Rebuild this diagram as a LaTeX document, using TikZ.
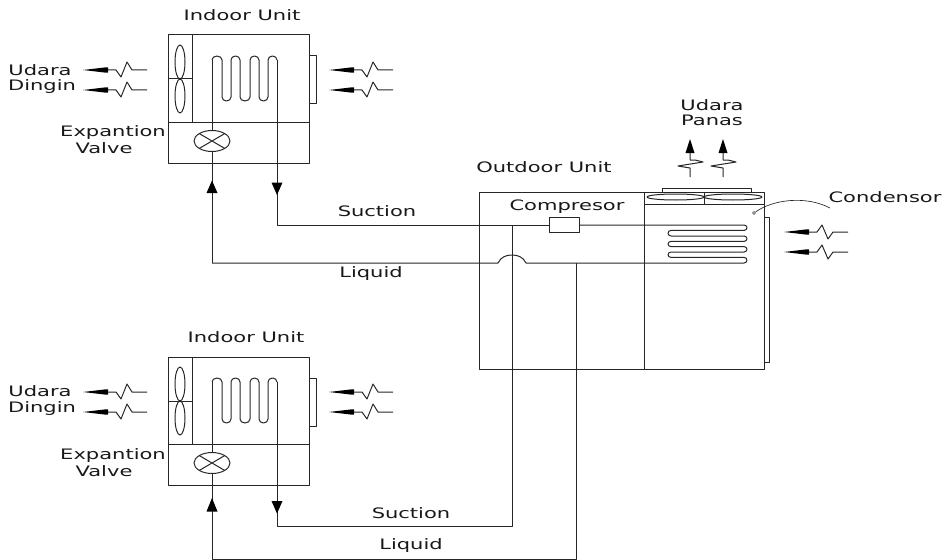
\documentclass[tikz,border=0pt]{standalone}
\usepackage{fontspec}
\newfontfamily\lblfont[FakeStretch=1.46]{DejaVu Sans}
\tikzset{
  x=0.75pt,y=-0.75pt,
  wire/.style={draw=black!85,line width=0.75pt,line join=round},
  boxn/.style={wire,rectangle,inner sep=0pt,minimum width=0pt},
  lbl/.style={font=\lblfont\fontsize{10.8}{12}\selectfont,anchor=base,inner sep=0pt,text=black!90},
  pics/airflow/.style={code={
    \fill[black] (0,0) -- (23,-2.7) -- (25,-2.7) -- (25,2.7) -- (23,2.7) -- cycle;
    \draw[wire] (25,0) -- (33,0) -- (38,7) -- (44,-8) -- (49,0) -- (64,0);
  }},
  pics/airflowflip/.style={code={
    \fill[black] (0,0) -- (23,-2.7) -- (25,-2.7) -- (25,2.7) -- (23,2.7) -- cycle;
    \draw[wire] (25,0) -- (33,0) -- (38,-7) -- (44,7) -- (49,0) -- (64,0);
  }},
  pics/airup/.style={code={
    \fill[black] (0,0) -- (-4.5,14) -- (4.5,14) -- cycle;
    \draw[wire] (0,14) -- (0,21) -- (5,21) -- (13,23) -- (-12,27) -- (0,29) -- (0,38);
  }},
  pics/indoor/.style={code={
    \draw[wire] (168,35) rectangle (309,163);
    \draw[wire] (168,122) -- (309,122);
    \draw[wire] (192,35) -- (192,122);
    \draw[wire] (168,79) -- (192,79);
    \draw[wire] (180,62) ellipse (5 and 17);
    \draw[wire] (180,96) ellipse (5 and 17);
    \draw[wire] (309,56) -- (316,56) -- (316,104) -- (309,104);
    \draw[wire] (212,60) arc[start angle=180,end angle=360,x radius=5,y radius=4]
      -- (222,97) arc[start angle=180,end angle=0,x radius=4.5,y radius=4]
      -- (231,60) arc[start angle=180,end angle=360,x radius=4.5,y radius=4]
      -- (240,97) arc[start angle=180,end angle=0,x radius=5,y radius=4]
      -- (250,60) arc[start angle=180,end angle=360,x radius=4.5,y radius=4]
      -- (259,97) arc[start angle=180,end angle=0,x radius=4.5,y radius=4]
      -- (268,60) arc[start angle=180,end angle=360,x radius=4.5,y radius=4]
      -- (277,60);
    \draw[wire] (212,60) -- (212,130.5);
    \draw[wire] (277,60) -- (277,163);
    \draw[wire] (212,141) ellipse (18 and 10.5);
    \draw[wire] (199.3,133.6) -- (224.7,148.4) (199.3,148.4) -- (224.7,133.6);
    \draw[wire] (212,151.5) -- (212,163);
    \coordinate (-liq) at (212,163);
    \coordinate (-suc) at (277,163);
    \pic at (83,70) {airflow};
    \pic at (83,90) {airflow};
    \pic at (329,70) {airflow};
    \pic at (329,90) {airflow};
  }},
}
\begin{document}
\begin{tikzpicture}
\useasboundingbox (0,0) rectangle (946,560);
% indoor units
\pic (ua) at (0,0) {indoor};
\pic (ub) at (0,322) {indoor};
% outdoor unit
\coordinate (oTL) at (479,192);
\coordinate (oBR) at (764,369);
\draw[wire] (oTL) rectangle (oBR);
\draw[wire] (644,192) -- (644,369);
\draw[wire] (644,204) -- (764,204);
\draw[wire] (704,192) -- (704,204);
\draw[wire] (662,192) -- (662,188) -- (751,188) -- (751,192);
\draw[wire] (675.5,197) ellipse (28.5 and 3);
\draw[wire] (733,197) ellipse (29 and 3);
\draw[wire] (764,217) -- (769,217) -- (769,362) -- (764,362);
\node[boxn,minimum width=22.5pt,minimum height=11.25pt] (comp) at (564,224.5) {};
% condenser coil
\coordinate (cIn) at (744,225);
\draw[wire] (comp.east |- cIn) -- (cIn) arc[start angle=-90,end angle=90,x radius=3,y radius=2.7]
  -- (671,230.4) arc[start angle=270,end angle=90,x radius=3,y radius=2.8]
  -- (744,236) arc[start angle=-90,end angle=90,x radius=3,y radius=2.7]
  -- (671,241.4) arc[start angle=270,end angle=90,x radius=3,y radius=2.6]
  -- (744,246.6) arc[start angle=-90,end angle=90,x radius=3,y radius=2.7]
  -- (671,252) arc[start angle=270,end angle=90,x radius=3,y radius=2.7]
  -- (744,257.4) arc[start angle=-90,end angle=90,x radius=3,y radius=2.8]
  -- (526,263) .. controls (523,257) and (518,255) .. (512,255) .. controls (506,255) and (501,257) .. (498,263) -- (212,263);
% pipes
\coordinate (sucA) at (277,225);
\coordinate (liqA) at (212,263);
\coordinate (sucB) at (277,526);
\coordinate (liqB) at (212,559);
\coordinate (jS) at (512,225);
\coordinate (jL) at (576,263);
\draw[wire] (ua-suc) -- (sucA) -- (comp.west |- sucA);
\draw[wire] (ua-liq) -- (liqA);
\draw[wire] (ub-suc) -- (sucB) -- (512,526) -- (jS);
\draw[wire] (ub-liq) -- (liqB) -- (576,559) -- (jL);
% flow arrows on pipes
\fill[black] (212,180.5) -- (206.5,193) -- (217.5,193) -- cycle;
\fill[black] (277,195) -- (271.5,182.5) -- (282.5,182.5) -- cycle;
\fill[black] (212,498) -- (206.5,511.5) -- (217.5,511.5) -- cycle;
\fill[black] (277,513.5) -- (271.5,501) -- (282.5,501) -- cycle;
% air flows
\pic at (784,232) {airflowflip};
\pic at (784,252) {airflowflip};
\pic at (690,139) {airup};
\pic at (723,139) {airup};
% condensor pointer
\draw[wire,line width=0.5pt] (754,213) circle (1.5);
\draw[wire,line width=0.5pt] (755.5,212) .. controls (772,200) and (805,195) .. (830,208);
% labels
\node[lbl] (t1) at (242,21) {Indoor Unit};
\node[lbl] (t2) at (246,342) {Indoor Unit};
\node[lbl] (t3) at (40,75) {Udara};
\node[lbl] (t4) at (42,91) {Dingin};
\node[lbl] (t5) at (40,396) {Udara};
\node[lbl] (t6) at (42,412) {Dingin};
\node[lbl] (t7) at (113,137) {Expantion};
\node[lbl] (t8) at (104,153) {Valve};
\node[lbl] (t9) at (113,459) {Expantion};
\node[lbl] (t10) at (104,476) {Valve};
\node[lbl] (t11) at (377,216) {Suction};
\node[lbl] (t12) at (371,277) {Liquid};
\node[lbl] (t13) at (411,518) {Suction};
\node[lbl] (t14) at (411,549) {Liquid};
\node[lbl] (t15) at (544,172) {Outdoor Unit};
\node[lbl] (t16) at (567,210) {Compresor};
\node[lbl] (t17) at (712,110) {Udara};
\node[lbl] (t18) at (712,126) {Panas};
\node[lbl] (t19) at (885,202) {Condensor};
\end{tikzpicture}
\end{document}
